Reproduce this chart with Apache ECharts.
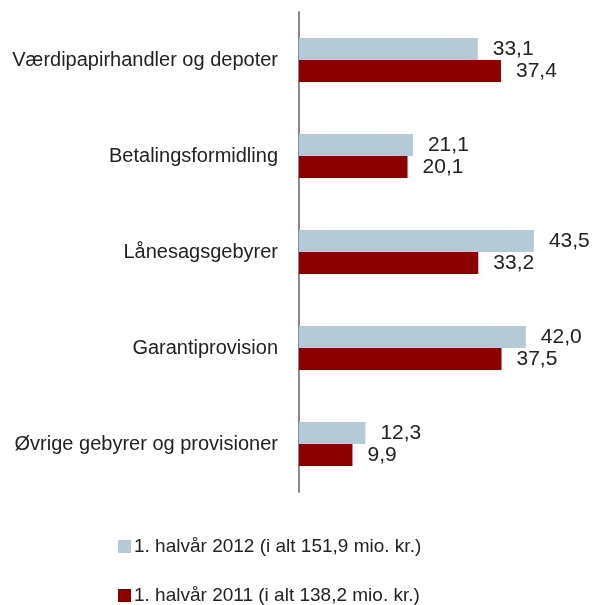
<!DOCTYPE html>
<html>
<head>
<meta charset="utf-8">
<script src="https://cdn.jsdelivr.net/npm/echarts@6/dist/echarts.min.js"></script>
<style>
  html, body { margin: 0; padding: 0; background: #fff; }
  #chart { width: 592px; height: 605px; }
</style>
</head>
<body>
<div id="chart"></div>
<script>
const categories = [
  'Værdipapirhandler og depoter',
  'Betalingsformidling',
  'Lånesagsgebyrer',
  'Garantiprovision',
  'Øvrige gebyrer og provisioner'
]
const series2012 = [33.1, 21.1, 43.5, 42.0, 12.3]
const series2011 = [37.4, 20.1, 33.2, 37.5, 9.9]
const seriesNames = [
  '1. halvår 2012 (i alt 151,9 mio. kr.)',
  '1. halvår 2011 (i alt 138,2 mio. kr.)'
]

const font = '"Liberation Sans", Arial, sans-serif'
const fmt = p => p.value.toFixed(1).replace('.', ',')

const legendItem = (name, top) => ({
  left: 113,
  top: top,
  itemWidth: 13,
  itemHeight: 13,
  icon: 'rect',
  data: [name],
  textStyle: { fontFamily: font, fontSize: 19, color: '#222', padding: [0, 0, 0, -2] }
})

const chart = echarts.init(document.getElementById('chart'))
const option = {
  animation: false,
  textStyle: { fontFamily: font },
  grid: { left: 299, right: 23, top: 12, bottom: 113, containLabel: false },
  legend: [
    legendItem(seriesNames[0], 532),
    legendItem(seriesNames[1], 581)
  ],
  xAxis: {
    type: 'value',
    min: 0,
    max: 50,
    show: false
  },
  yAxis: {
    type: 'category',
    inverse: true,
    data: categories,
    axisLine: { show: true, lineStyle: { color: '#8c8c8c', width: 2 } },
    axisTick: { show: false },
    axisLabel: { fontFamily: font, fontSize: 20, color: '#222', margin: 21 }
  },
  series: [
    {
      name: seriesNames[0],
      type: 'bar',
      data: series2012,
      barWidth: 22,
      barGap: '0%',
      itemStyle: { color: '#b5cad7' },
      label: { show: true, position: 'right', distance: 15, formatter: fmt, fontFamily: font, fontSize: 21, color: '#222' }
    },
    {
      name: seriesNames[1],
      type: 'bar',
      data: series2011,
      barWidth: 22,
      barGap: '0%',
      itemStyle: { color: '#8b0000' },
      label: { show: true, position: 'right', distance: 15, formatter: fmt, fontFamily: font, fontSize: 21, color: '#222' }
    }
  ]
}
chart.setOption(option)
</script>
</body>
</html>
